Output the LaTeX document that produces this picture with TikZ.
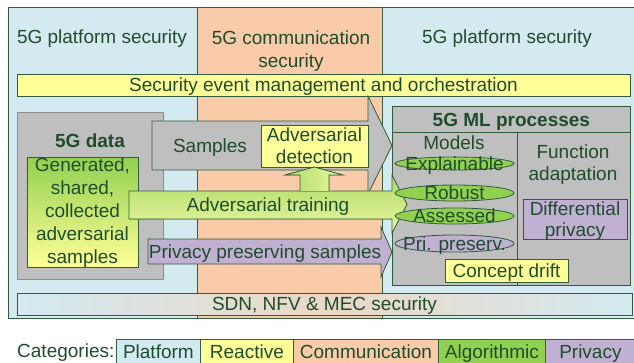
\documentclass[tikz,border=0pt]{standalone}
\usepackage{fontspec}
\setmainfont{Liberation Sans}
\usetikzlibrary{positioning,calc,shapes.geometric}
\definecolor{ink}{HTML}{1E4D2B}
\definecolor{edge}{HTML}{2F5D3D}
\definecolor{plat}{HTML}{D3EAF0}
\definecolor{comm}{HTML}{F9CBA9}
\definecolor{react}{HTML}{FFFF99}
\definecolor{algo}{HTML}{92D050}
\definecolor{priv}{HTML}{C0B1D3}
\definecolor{slab}{HTML}{BFBFBF}
\definecolor{pale}{HTML}{EAF7A2}
\definecolor{leaf}{HTML}{AEDB66}

\begin{document}
\begin{tikzpicture}[x=1pt,y=-1pt,
   txt/.style={text=ink,font=\fontsize{19}{23}\selectfont,align=center,inner sep=0pt,text depth=0pt},
   bx/.style={draw=edge,fill=#1,line width=0.8pt,inner sep=0pt,text=ink,font=\fontsize{19}{23}\selectfont,align=center,text depth=0pt},
   col/.style={draw=edge,fill=#1,line width=0.8pt,anchor=north west,inner sep=0pt,minimum height=311pt},
   arw/.style={draw=edge,line width=0.8pt,line join=miter}]
  \useasboundingbox (0,0) rectangle (634,362);
  % columns
  \node[col=plat,minimum width=189pt] (colL) at (8,7) {};
  \node[col=comm,minimum width=185pt] (colM) at (197,7) {};
  \node[col=plat,minimum width=252pt] (colR) at (382,7) {};
  \node[txt] (tL) at (102,37) {5G platform security};
  \node[txt] (tM) at (291,49) {5G communication\\security};
  \node[txt] (tR) at (507,37) {5G platform security};
  \node[bx=react,minimum width=613pt,minimum height=22pt] (seam) at (323.5,85) {Security event management and orchestration};
  % 5G data
  \node[bx=slab,draw=black!45,minimum width=146pt,minimum height=167pt,anchor=north west] (data) at (17,112) {};
  \node[txt,font=\fontsize{19}{23}\selectfont\bfseries] (dataT) at (90,141) {5G data};
  \node[bx=white,top color=algo,bottom color=react,minimum width=111pt,minimum height=110pt,anchor=north west] (gen) at (27,157) {};
  \node[txt] (genT) at (82.5,211) {Generated,\\shared,\\collected\\adversarial\\samples};
  \node[bx=white,left color=plat,right color=plat,middle color=comm!60!plat,minimum width=615pt,minimum height=22pt] (sdn) at (324.5,304) {SDN, NFV \& MEC security};
  % ML processes
  \node[bx=slab,minimum width=238pt,minimum height=153pt,anchor=north west] (ml) at (392,132) {};
  \node[bx=slab,minimum width=238pt,minimum height=26pt,anchor=north west,font=\fontsize{19}{23}\selectfont\bfseries] (mlT) at (392,106) {5G ML processes};
  \draw[edge,line width=0.8pt] (517,132) -- (517,285);
  \node[txt] (models) at (454,143) {Models};
  \node[txt,font=\fontsize{19}{22}\selectfont] (fadapt) at (573,163) {Function\\adaptation};
  \node[bx=priv,minimum width=104pt,minimum height=40pt,font=\fontsize{19}{21}\selectfont] (dp) at (575,219) {Differential\\privacy};
  \node[bx=react,minimum width=123pt,minimum height=23pt] (drift) at (506.5,270.5) {Concept drift};
  % arrows
  \filldraw[arw,fill=slab] (152,121) -- (368,121) -- (368,96) -- (392,145.5) -- (368,194) -- (368,170) -- (152,170) -- cycle;
  \node[txt] (smp) at (210,145.5) {Samples};
  \node[bx=react,minimum width=107pt,minimum height=42pt,font=\fontsize{19}{22}\selectfont] (det) at (314.5,146) {Adversarial\\detection};
  \filldraw[arw,top color=leaf,bottom color=pale] (129,191) -- (392,191) -- (392,175) -- (407,204.5) -- (392,233) -- (392,219) -- (129,219) -- cycle;
  \node[txt] (train) at (268,205) {Adversarial training};
  \filldraw[arw,left color=leaf,right color=pale] (300,191) -- (300,175) -- (285,175) -- (314.5,167) -- (343,175) -- (329,175) -- (329,191);
  \filldraw[arw,fill=priv] (148,239) -- (381,239) -- (381,227) -- (392,252) -- (381,277) -- (381,264) -- (148,264) -- cycle;
  \node[txt] (pps) at (265,252) {Privacy preserving samples};
  \foreach \nm/\c/\y/\h/\t in {expl/algo/163.5/13/Explainable,rob/algo/193/16/Robust,ass/algo/216/16/Assessed,pri/priv/243.5/17/Pri. preserv.}{
     \node[ellipse,draw=edge,fill=\c,line width=0.8pt,inner sep=0pt,minimum width=119pt,minimum height=\h pt] (\nm) at (454.5,\y) {};
     \node[txt] (\nm-t) at (\nm) {\t};}
  % legend
  \node[txt,anchor=west] (cat) at (17,351) {Categories:};
  \foreach \nm/\c/\x/\w/\t in {lplat/plat/116/84/Platform,lreact/react/200/93/Reactive,lcomm/comm/293/145/Communication,lalgo/algo/438/107/Algorithmic,lpriv/priv/545/90/Privacy}{
     \node[bx=\c,minimum width=\w pt,minimum height=24pt,anchor=north west] (\nm) at (\x,339) {\t};}
\end{tikzpicture}
\end{document}
